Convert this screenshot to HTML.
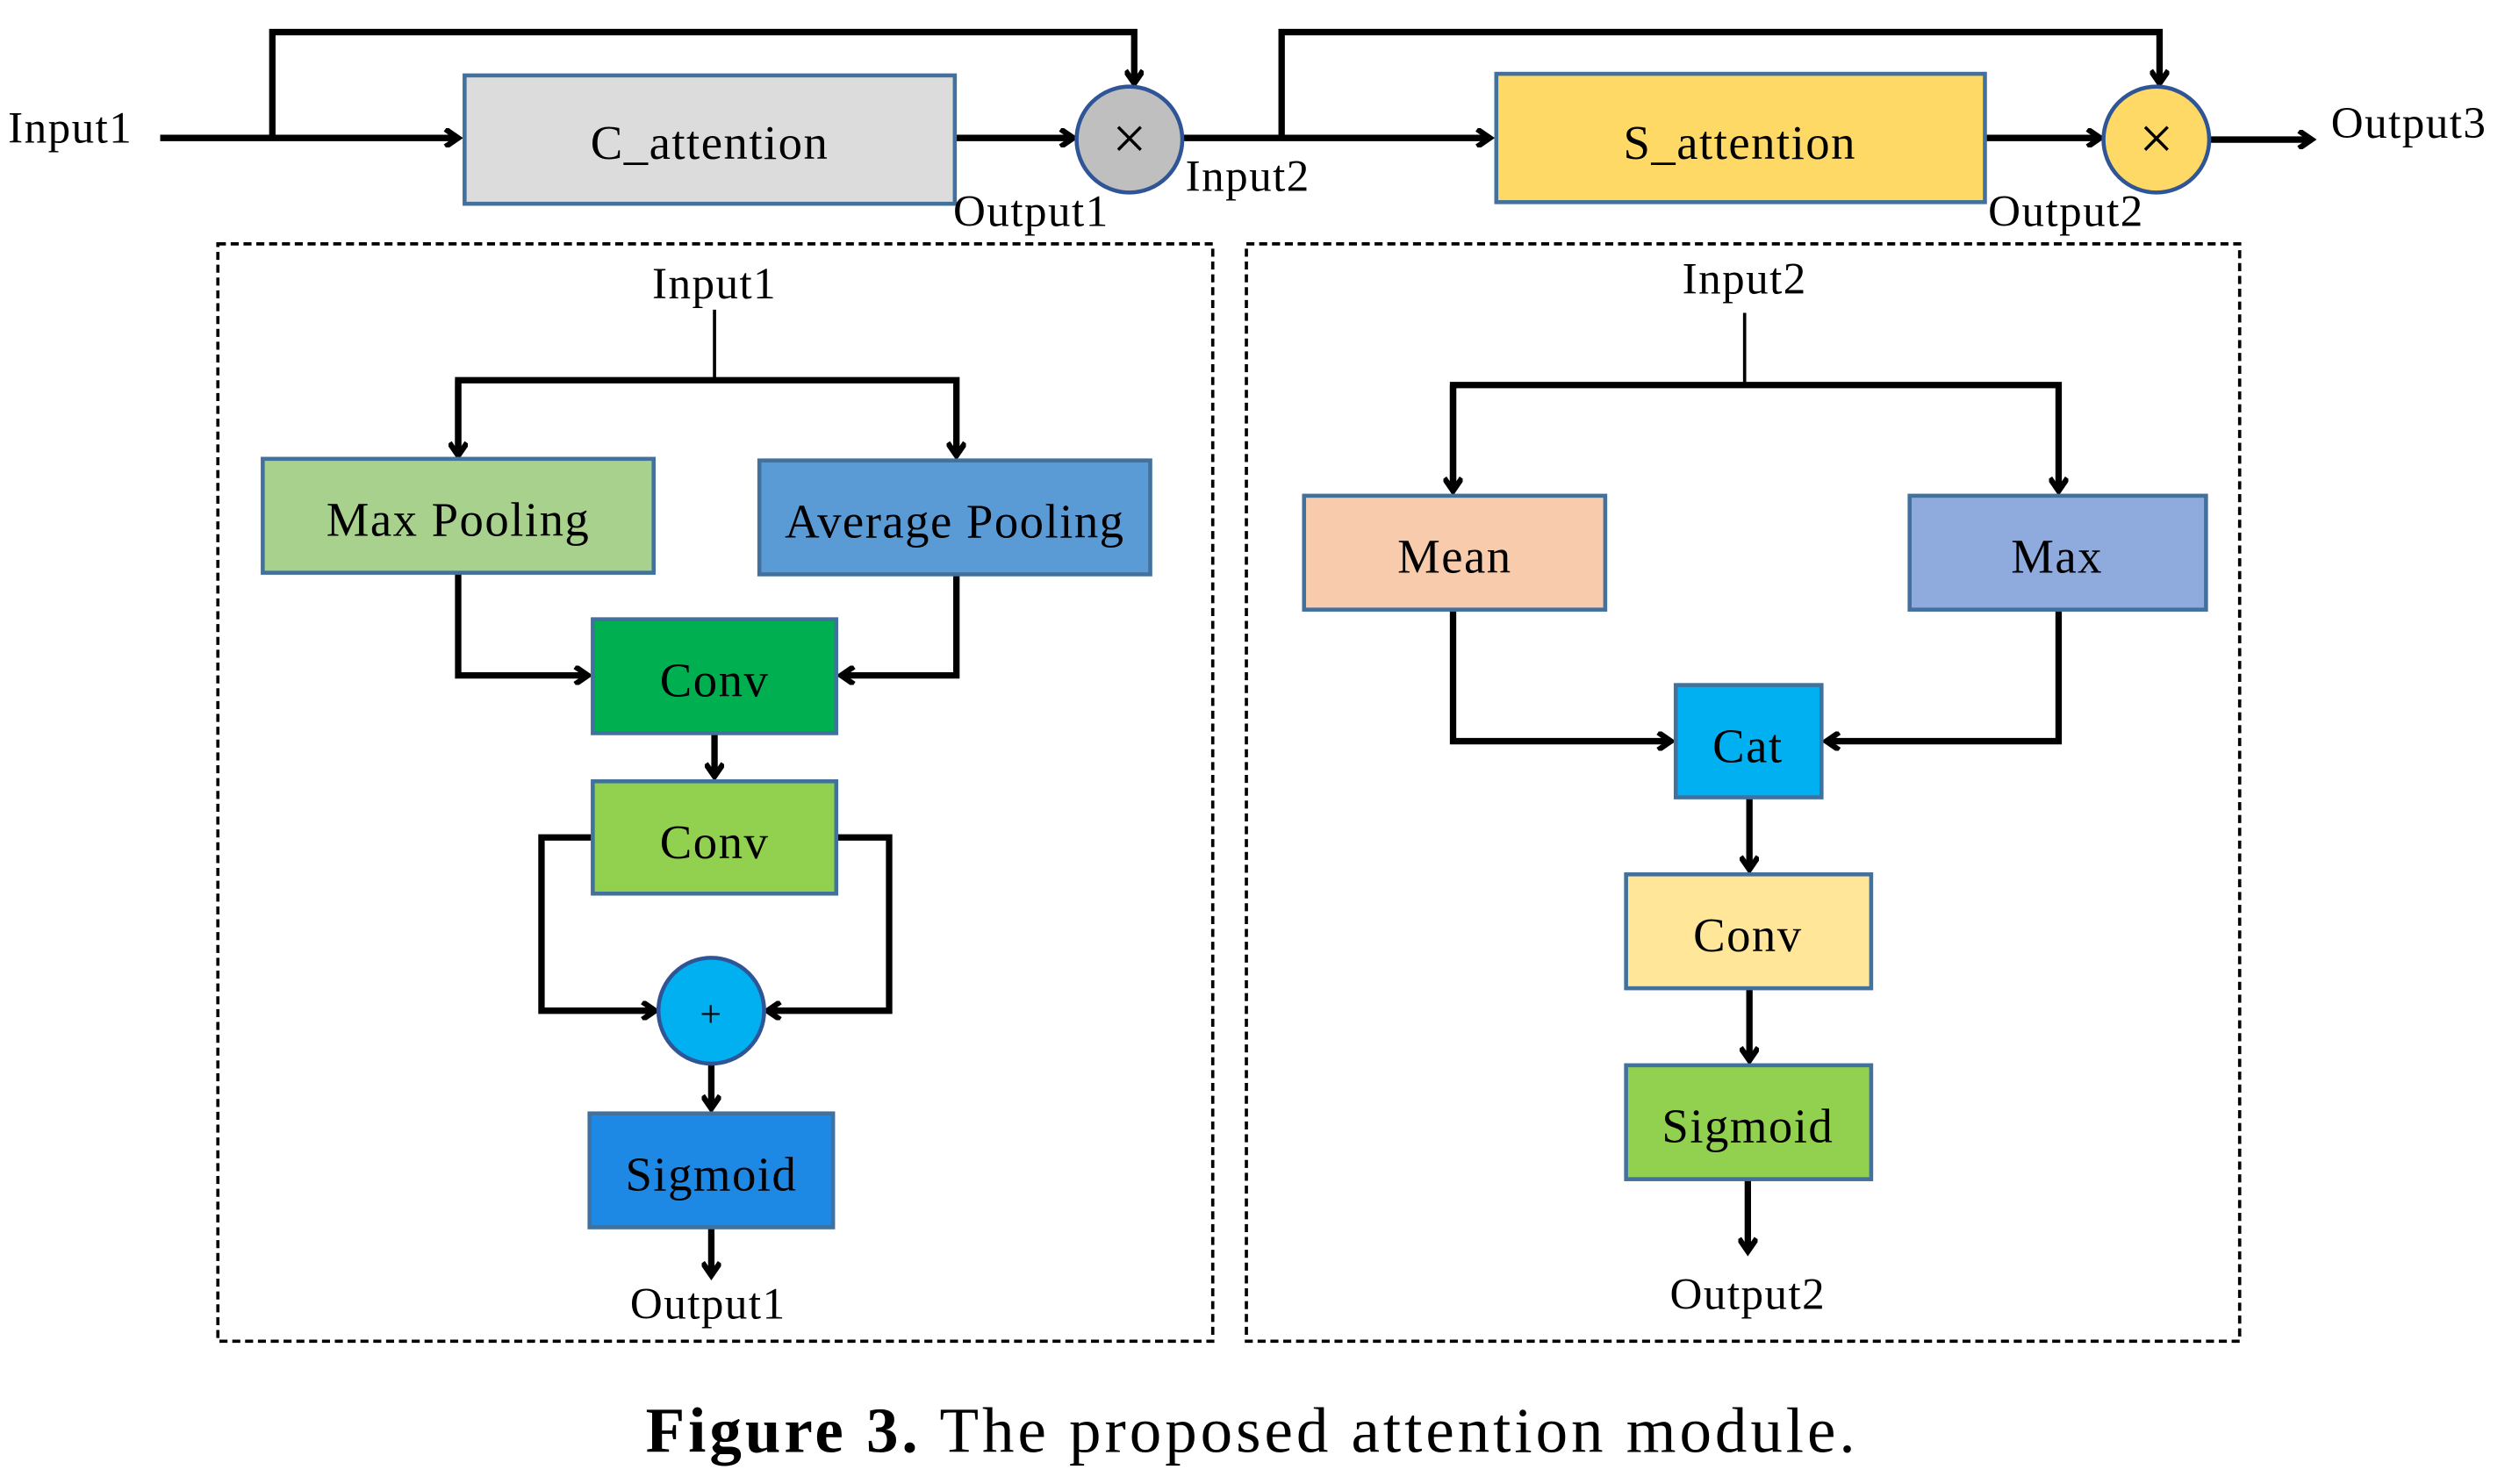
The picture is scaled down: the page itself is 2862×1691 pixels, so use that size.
<!DOCTYPE html>
<html><head><meta charset="utf-8"><style>
html,body{margin:0;padding:0;background:#fff;}
svg{display:block;}
text{font-family:"Liberation Serif",serif;fill:#000;}
</style></head><body>
<svg width="2862" height="1691" viewBox="0 0 1568 925" preserveAspectRatio="none" xmlns="http://www.w3.org/2000/svg">
<defs>
<marker id="a" markerWidth="12" markerHeight="12" refX="9" refY="6" orient="auto" markerUnits="userSpaceOnUse">
<polyline points="1,0.5 9,6 1,11.5" fill="none" stroke="#000" stroke-width="3.5"/>
</marker>
</defs>
<g stroke="#000" stroke-width="4" fill="none">
<line x1="100" y1="86" x2="286" y2="86" marker-end="url(#a)"/>
<polyline points="170,86 170,20 708,20 708,52" marker-end="url(#a)"/>
<line x1="596" y1="86" x2="670" y2="86" marker-end="url(#a)"/>
<line x1="738" y1="86" x2="930" y2="86" marker-end="url(#a)"/>
<polyline points="800,86 800,20 1348,20 1348,52" marker-end="url(#a)"/>
<line x1="1239" y1="86" x2="1311" y2="86" marker-end="url(#a)"/>
<line x1="1380" y1="87" x2="1443" y2="87" marker-end="url(#a)"/>
<line x1="446" y1="193" x2="446" y2="237" stroke-width="2"/>
<polyline points="286,284 286,237 597,237 597,284" marker-end="url(#a)"/>
<line x1="286" y1="237" x2="286" y2="284" marker-end="url(#a)"/>
<polyline points="286,357 286,421 367,421" marker-end="url(#a)"/>
<polyline points="597,358 597,421 525,421" marker-end="url(#a)"/>
<line x1="446" y1="457" x2="446" y2="484" marker-end="url(#a)"/>
<polyline points="370,522 338,522 338,630 409,630" marker-end="url(#a)"/>
<polyline points="522,522 555,522 555,630 479,630" marker-end="url(#a)"/>
<line x1="444" y1="663" x2="444" y2="691" marker-end="url(#a)"/>
<line x1="444" y1="765" x2="444" y2="795" marker-end="url(#a)"/>
<line x1="1089" y1="195" x2="1089" y2="240" stroke-width="2"/>
<polyline points="907,306 907,240 1285,240 1285,306" marker-end="url(#a)"/>
<line x1="907" y1="240" x2="907" y2="306" marker-end="url(#a)"/>
<polyline points="907,380 907,462 1043,462" marker-end="url(#a)"/>
<polyline points="1285,380 1285,462 1140,462" marker-end="url(#a)"/>
<line x1="1092" y1="497" x2="1092" y2="542" marker-end="url(#a)"/>
<line x1="1092" y1="616" x2="1092" y2="661" marker-end="url(#a)"/>
<line x1="1091" y1="735" x2="1091" y2="780" marker-end="url(#a)"/>
</g>
<rect x="136" y="152" width="621" height="684" fill="none" stroke="#000" stroke-width="2" stroke-dasharray="5,3"/>
<rect x="778" y="152" width="620" height="684" fill="none" stroke="#000" stroke-width="2" stroke-dasharray="5,3"/>
<g stroke="#41719c" stroke-width="2.5">
<rect x="290" y="47" width="306" height="80" fill="#dcdcdc"/>
<rect x="934" y="46" width="305" height="80" fill="#ffd966"/>
<circle cx="705" cy="87" r="33" fill="#bfbfbf" stroke="#2f5597"/>
<circle cx="1346" cy="87" r="33" fill="#ffd966" stroke="#2f5597"/>
<rect x="164" y="286" width="244" height="71" fill="#a9d18e"/>
<rect x="474" y="287" width="244" height="71" fill="#5b9bd5"/>
<rect x="370" y="386" width="152" height="71" fill="#00b050"/>
<rect x="370" y="487" width="152" height="70" fill="#92d050"/>
<circle cx="444" cy="630" r="33" fill="#00b0f0" stroke="#2f5597"/>
<rect x="368" y="694" width="152" height="71" fill="#1e88e5"/>
<rect x="814" y="309" width="188" height="71" fill="#f8cbad"/>
<rect x="1192" y="309" width="185" height="71" fill="#8faadc"/>
<rect x="1046" y="427" width="91" height="70" fill="#00b0f0"/>
<rect x="1015" y="545" width="153" height="71" fill="#ffe699"/>
<rect x="1015" y="664" width="153" height="71" fill="#92d050"/>
</g>
<g font-size="28" letter-spacing="0.8">
<text x="5" y="89">Input1</text>
<text x="443" y="99" text-anchor="middle" font-size="30">C_attention</text>
<text x="705" y="99" text-anchor="middle" font-size="38" letter-spacing="0">×</text>
<text x="595" y="141">Output1</text>
<text x="740" y="119">Input2</text>
<text x="1086" y="99" text-anchor="middle" font-size="30">S_attention</text>
<text x="1346" y="99" text-anchor="middle" font-size="38" letter-spacing="0">×</text>
<text x="1241" y="141">Output2</text>
<text x="1455" y="86">Output3</text>
<text x="446" y="186" text-anchor="middle">Input1</text>
<text x="286" y="334" text-anchor="middle" font-size="30">Max Pooling</text>
<text x="596" y="335" text-anchor="middle" font-size="30">Average Pooling</text>
<text x="446" y="434" text-anchor="middle" font-size="30">Conv</text>
<text x="446" y="535" text-anchor="middle" font-size="30">Conv</text>
<text x="444" y="640" text-anchor="middle" font-size="24" font-family="Liberation Sans,sans-serif">+</text>
<text x="444" y="742" text-anchor="middle" font-size="30">Sigmoid</text>
<text x="442" y="822" text-anchor="middle">Output1</text>
<text x="1089" y="183" text-anchor="middle">Input2</text>
<text x="908" y="357" text-anchor="middle" font-size="30">Mean</text>
<text x="1284" y="357" text-anchor="middle" font-size="30">Max</text>
<text x="1091" y="475" text-anchor="middle" font-size="30">Cat</text>
<text x="1091" y="593" text-anchor="middle" font-size="30">Conv</text>
<text x="1091" y="712" text-anchor="middle" font-size="30">Sigmoid</text>
<text x="1091" y="816" text-anchor="middle">Output2</text>
</g>
<text x="403" y="905" font-size="40" textLength="755" lengthAdjust="spacing"><tspan font-weight="bold">Figure 3.</tspan> The proposed attention module.</text>
</svg>
</body></html>
